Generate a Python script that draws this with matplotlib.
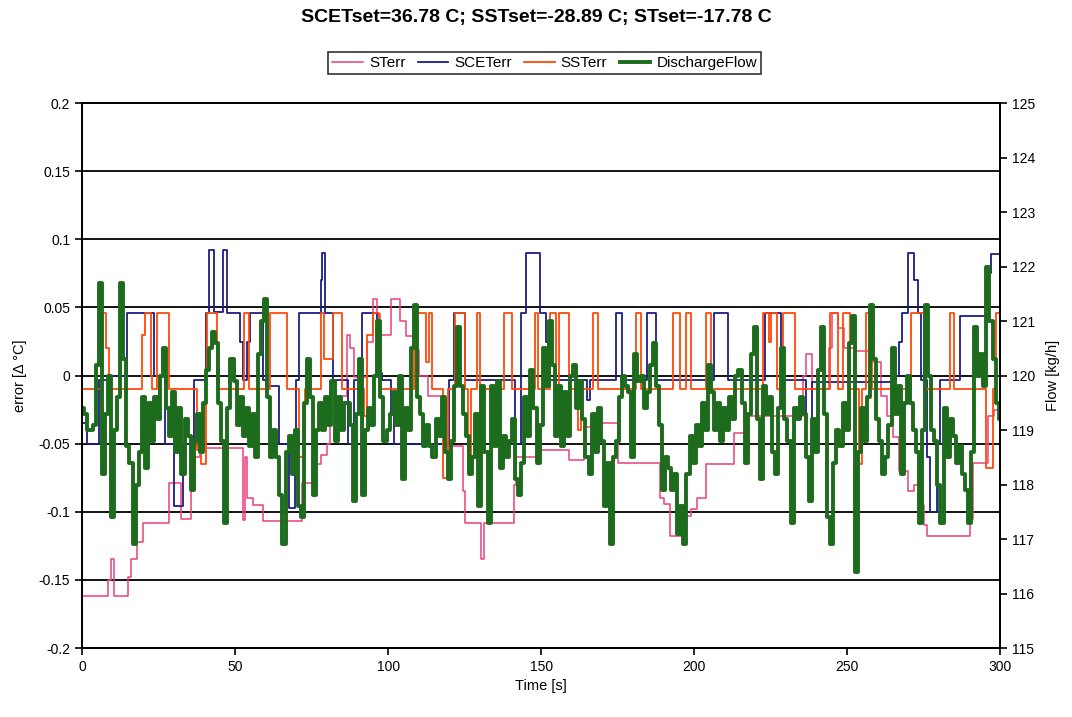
import numpy as np
import matplotlib
matplotlib.use('Agg')
import matplotlib.pyplot as plt

plt.rcParams['font.family'] = ['Liberation Sans', 'DejaVu Sans']

# STerr step changes (time [s], error)
st_t = [0, 8.5, 9.5, 10.5, 15, 16, 18, 20, 28.5, 32.5, 35.5, 37, 38.5, 52.5, 53.2, 54, 56, 59,
        72, 75.5, 78, 80, 81, 83, 85, 86.5, 87.5, 89, 93, 95, 96.5, 97.5, 101, 104, 106, 108,
        110, 113, 118, 124.5, 125, 130.3, 131.3, 141, 141.8, 150, 159, 164, 169, 175, 189, 190,
        192, 196, 199, 201, 204, 213, 218, 235.5, 236.5, 238.5, 244, 245, 247, 249, 253, 258,
        261, 263, 265, 267, 270, 272, 274, 275, 276, 290, 291, 296, 298]
st_v = [-0.162, -0.150, -0.135, -0.162, -0.148, -0.135, -0.122, -0.108, -0.079, -0.105, -0.080,
        -0.060, -0.053, -0.106, -0.060, -0.090, -0.095, -0.107, -0.079, -0.065, -0.058, -0.050,
        -0.028, -0.020, -0.015, 0.030, 0.020, -0.001, 0.025, 0.056, 0.045, 0.030, 0.056, 0.040,
        0.029, 0.019, 0.000, -0.015, -0.052, -0.085, -0.108, -0.135, -0.108, -0.080, -0.060,
        -0.055, -0.062, -0.038, -0.035, -0.064, -0.090, -0.094, -0.118, -0.103, -0.098, -0.090,
        -0.065, -0.042, -0.030, 0.000, 0.016, -0.010, 0.020, 0.046, 0.035, 0.020, 0.018, 0.010,
        -0.015, -0.030, -0.045, -0.070, -0.085, -0.080, -0.095, -0.110, -0.118, -0.105, -0.064,
        -0.030, -0.025]

# SCETerr step changes
scet_t = [0, 1.5, 5.4, 9, 14.6, 23.5, 27, 30, 33, 36.5, 40.5, 41.5, 43, 46, 47.5, 51.5, 52.5, 54,
          55, 59, 60, 64.5, 67.5, 69.5, 70, 71, 78, 78.5, 79.5, 82, 87, 89, 91.5, 96.5, 98, 101,
          102, 120, 121.5, 125, 141.5, 143.5, 145, 149.5, 151.5, 153, 165, 166, 174.5, 176.5,
          184.5, 187.5, 206.5, 211, 223, 228.5, 236.5, 238.5, 266, 267, 268, 270, 272, 273, 274,
          276, 277, 279.5, 280.5, 287, 296, 297]
scet_v = [-0.035, -0.050, -0.003, 0.000, 0.046, 0.000, -0.050, -0.096, -0.050, -0.003, 0.046,
          0.092, 0.047, 0.092, 0.046, 0.025, -0.003, 0.025, 0.046, -0.003, -0.008, -0.050,
          -0.097, -0.050, -0.003, 0.046, 0.070, 0.090, 0.046, -0.003, -0.050, -0.003, 0.046,
          0.002, -0.003, -0.028, -0.050, -0.003, 0.046, -0.003, -0.050, 0.046, 0.090, 0.046,
          0.025, -0.003, -0.018, -0.003, 0.046, -0.003, 0.046, -0.003, 0.046, -0.003, 0.046,
          -0.003, -0.050, -0.005, 0.000, 0.025, 0.046, 0.090, 0.070, 0.046, -0.003, -0.060,
          -0.100, -0.050, -0.003, 0.044, 0.075, 0.089]

# SSTerr step changes
sst_t = [0, 6.5, 8, 8.8, 19.5, 20.5, 22.5, 23, 24.5, 28.5, 37.5, 39, 40.5, 41, 44, 53, 54.5, 61.5,
         67, 71, 73, 78, 79, 82, 85, 92, 93, 95, 97, 108.5, 112.5, 113.5, 114.5, 118, 119.5, 122,
         125, 126, 127, 129, 130, 138, 140.5, 148, 149, 153, 155, 156, 159, 161, 162, 163, 167,
         168.5, 181, 182.5, 193, 195.5, 197.5, 199, 204, 205.5, 222.5, 224.5, 225, 227, 229, 233,
         244.5, 247, 248.5, 251, 254, 255, 256, 258, 271, 275, 283.5, 285, 295.5, 297.5, 298.5]
sst_v = [-0.010, 0.046, 0.020, -0.010, 0.030, 0.046, 0.000, -0.010, 0.046, -0.010, -0.055,
         -0.065, 0.000, 0.046, -0.010, 0.046, -0.010, 0.046, -0.010, -0.060, -0.010, 0.046,
         0.012, 0.046, -0.010, -0.030, 0.030, 0.046, -0.010, 0.046, 0.010, 0.046, -0.010,
         -0.075, -0.010, 0.046, -0.010, -0.070, -0.010, 0.046, -0.010, 0.046, -0.010, 0.046,
         -0.010, 0.046, -0.010, 0.046, -0.010, -0.015, -0.040, -0.010, 0.046, -0.010, 0.046,
         -0.010, 0.046, -0.010, 0.046, -0.010, 0.046, -0.010, 0.046, 0.025, 0.046, -0.010,
         0.046, -0.010, 0.046, -0.010, 0.046, -0.010, -0.065, -0.010, 0.046, -0.010, 0.046,
         -0.010, 0.046, -0.010, -0.068, -0.010, 0.046]

# Discharge flow [kg/h], one value per second, t = 0..300
flow = [119.4, 119.3, 119.0, 119.0, 119.1, 120.2, 121.7, 118.2, 119.3, 120.0, 117.4, 119.0,
        119.6, 121.7, 120.3, 118.7, 118.4, 116.9, 118.0, 118.6, 119.6, 118.3, 119.5, 118.8,
        119.6, 119.2, 120.0, 120.5, 119.4, 118.9, 119.7, 118.6, 119.4, 118.2, 119.2, 118.9,
        117.9, 118.8, 119.3, 118.6, 119.5, 120.1, 120.5, 120.8,
        120.6, 119.5, 118.8, 117.3, 119.4, 120.3, 119.9, 119.1, 119.6, 118.9, 119.4, 118.7,
        119.3, 118.5, 120.4, 121.0, 121.4, 119.6, 118.5, 119.0, 118.5, 117.8, 116.9, 118.6,
        118.9, 118.2, 119.0, 117.6, 117.4, 119.5, 120.3, 119.6, 117.8, 119.0, 119.5, 119.0,
        119.6, 119.1, 119.9, 118.8, 119.6, 119.0, 119.5,
        119.5, 119.1, 117.7, 119.3, 120.3, 117.8, 119.0, 119.4, 119.1, 120.0, 121.0, 119.6,
        118.8, 119.0, 119.3, 119.7, 119.1, 120.0, 118.1, 119.4, 119.0, 120.5, 121.3, 119.6,
        119.3, 118.7, 119.1, 118.7, 118.5, 119.2, 118.9, 119.6, 118.6, 118.1, 118.8, 119.8,
        120.9, 119.8, 119.3, 118.9, 118.2, 118.5, 119.3,
        117.6, 119.8, 118.6, 117.3, 119.8, 118.7, 119.9, 118.3, 118.9, 118.5, 118.8, 119.2,
        118.1, 117.8, 118.4, 119.6, 118.9, 120.1, 119.4, 118.4, 119.1, 120.5, 119.8, 121.0,
        120.2, 118.9, 119.8, 118.7, 119.7, 118.9, 120.0, 120.2, 119.4, 119.9, 119.2, 118.5,
        118.2, 119.3, 118.6, 119.4, 118.8, 117.6, 118.4,
        116.9, 118.5, 118.8, 119.6, 120.0, 119.8, 119.7, 118.5, 120.4, 119.9, 120.0, 119.4,
        119.7, 120.2, 120.6, 119.8, 119.1, 117.9, 118.5, 118.3, 117.9, 118.2, 117.1, 117.6,
        116.9, 118.2, 118.9, 118.4, 119.1, 118.7, 119.5, 119.0, 120.2, 119.7, 119.0, 119.5,
        118.8, 119.4, 119.0, 119.6, 119.2, 120.0, 120.1,
        119.5, 118.4, 119.3, 120.4, 120.9, 119.2, 118.1, 119.8, 119.3, 119.6, 118.6, 118.2,
        119.4, 120.5, 119.2, 118.8, 117.3, 119.4, 119.2, 119.6, 119.3, 118.5, 117.7, 119.2,
        118.6, 120.1, 120.9, 119.3, 117.4, 116.9, 118.4, 119.0, 118.7, 119.5, 119.0, 120.6,
        121.1, 116.4, 118.6, 119.4, 118.8, 119.6, 121.3,
        120.3, 119.2, 118.8, 118.2, 118.5, 119.1, 120.5, 119.3, 119.8, 118.2, 119.5, 120.0,
        119.5, 119.0, 118.6, 117.3, 119.0, 121.3, 120.0, 119.0, 118.8, 118.0, 117.3, 119.4,
        118.5, 119.2, 118.9, 118.4, 118.7, 118.2, 117.9, 117.3, 118.6, 120.9, 120.0, 120.4,
        119.8, 122.0, 121.0, 120.3, 119.5, 119.2]
flow_t = np.arange(len(flow))

fig = plt.figure(figsize=(10.72, 7.17), dpi=100)
ax = fig.add_axes([0.0765, 0.0962, 0.8565, 0.760])
ax2 = ax.twinx()

def ext(t, v):
    # extend the last step to the end of the run
    return list(t) + [300], list(v) + [v[-1]]

l1, = ax.plot(*ext(st_t, st_v), drawstyle='steps-post', color='#e8407c', lw=1.1, label='STerr')
l2, = ax.plot(*ext(scet_t, scet_v), drawstyle='steps-post', color='#1c1c85', lw=1.3, label='SCETerr')
l3, = ax.plot(*ext(sst_t, sst_v), drawstyle='steps-post', color='#ff4a0a', lw=1.3, label='SSTerr')
l4, = ax2.plot(flow_t, flow, drawstyle='steps-mid', color='#1d6b1d', lw=2.8, label='DischargeFlow')

ax.set_xlim(0, 300)
ax.set_ylim(-0.2, 0.2)
ax.set_yticks(np.arange(-0.2, 0.201, 0.05))
ax.set_yticklabels(['-0.2', '-0.15', '-0.1', '-0.05', '0', '0.05', '0.1', '0.15', '0.2'])
ax.set_xticks(range(0, 301, 50))
ax2.set_ylim(115, 125)
ax2.set_yticks(range(115, 126))

for y in np.arange(-0.15, 0.201, 0.05):
    ax.axhline(y, color='black', lw=1.3, zorder=0.5)

for a in (ax, ax2):
    for s in a.spines.values():
        s.set_linewidth(1.3)
    a.tick_params(labelsize=10, width=1.2, length=5, direction='out')

ax.set_xlabel('Time [s]', fontsize=10.5)
ax.set_ylabel('error [Δ °C]', fontsize=10.5, labelpad=8)
ax2.set_ylabel('Flow [kg/h]', fontsize=10.5, labelpad=8)

fig.suptitle('SCETset=36.78 C; SSTset=-28.89 C; STset=-17.78 C', y=0.988,
             fontsize=14, fontweight='bold')
leg = fig.legend(handles=[l1, l2, l3, l4], loc='center', bbox_to_anchor=(0.508, 0.912),
                 ncol=4, fontsize=11, frameon=True, fancybox=False, handlelength=2.0,
                 handletextpad=0.4, columnspacing=0.8, borderpad=0.25)
leg.get_frame().set_edgecolor('black')
leg.get_frame().set_linewidth(1.2)

fig.savefig('out.png', dpi=100)
